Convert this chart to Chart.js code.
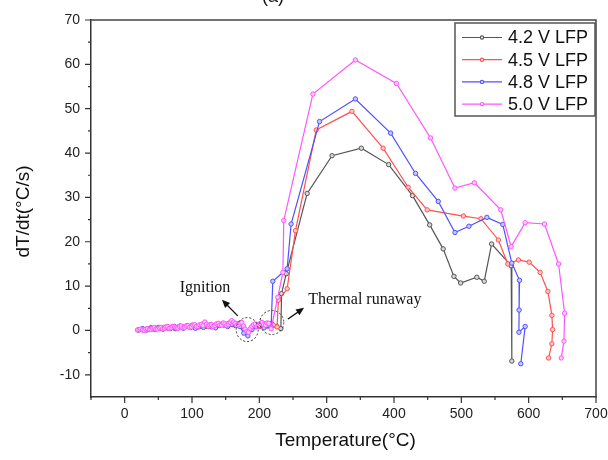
<!DOCTYPE html>
<html>
<head>
<meta charset="utf-8">
<script src="https://cdn.jsdelivr.net/npm/chart.js@4.4.1/dist/chart.umd.min.js"></script>
<style>
  body { margin: 0; background: #fff; }
  #chart { display: block; }
</style>
</head>
<body>
<canvas id="chart" width="608" height="460"></canvas>
<script>
// Axis ticks
const xTicks = [0, 100, 200, 300, 400, 500, 600, 700];
const xMinorTicks = [-50, 50, 150, 250, 350, 450, 550, 650];
const yTicks = [-10, 0, 10, 20, 30, 40, 50, 60, 70];
const yMinorTicks = [-5, 5, 15, 25, 35, 45, 55, 65];

const seriesLabels = ['4.2 V LFP', '4.5 V LFP', '4.8 V LFP', '5.0 V LFP'];
const seriesColors = ['#555555', '#ff5050', '#5050ff', '#ff55ff'];
const markerFills = ['#d8d8d8', '#ffc8c8', '#c8c8ff', '#ffc8ff'];

// 4.2 V LFP
const temp42 = [20, 26, 32, 38, 44, 50, 56, 62, 68, 74, 80, 86, 92, 98, 104, 110, 116, 122, 128, 134,
  140, 146, 152, 158, 164, 170, 176, 182, 188, 194, 200, 206, 212, 218, 226, 232, 233, 240, 271, 308,
  351.5, 392, 427.5, 453, 473, 489, 499, 523, 534, 545, 574, 575];
const rate42 = [0.1, 0.3, 0.2, 0.5, 0.3, 0.6, 0.4, 0.7, 0.5, 0.9, 0.6, 0.8, 1.0, 0.7, 1.1, 0.8, 1.2, 0.9, 1.3, 1.0,
  1.2, 1.5, 1.1, 1.4, 1.2, 1.6, 0.8, -0.5, 0.6, 1.1, 0.9, 1.4, 1.0, 1.6, 0.9, 0.4, 8.3, 12.8, 30.9, 39.4,
  41.1, 37.4, 30.4, 23.8, 18.4, 12.2, 10.7, 12.0, 11.1, 19.5, 14.6, -6.9];

// 4.5 V LFP
const temp45 = [22, 28, 34, 40, 46, 52, 58, 64, 70, 76, 82, 88, 94, 100, 106, 112, 118, 124, 130, 136,
  142, 148, 154, 160, 166, 172, 178, 184, 190, 196, 202, 208, 214, 221, 226.4, 228.3, 241.3, 253.7, 284.5, 337.6,
  383.8, 421, 449.3, 503, 529.2, 555, 569, 584.8, 600.7, 617, 628.5, 634.5, 635.5, 634.5, 629.6];
const rate45 = [0.2, 0.1, 0.4, 0.3, 0.6, 0.4, 0.7, 0.5, 0.8, 0.6, 1.0, 0.7, 0.9, 1.2, 0.8, 1.1, 1.4, 0.9, 1.2, 1.0,
  1.4, 1.2, 1.6, 1.3, 1.5, 1.1, 0.2, -0.3, 0.9, 1.3, 1.0, 1.5, 1.2, 1.2, 0.8, 6.8, 9.4, 22.5, 45.2, 49.4,
  41.1, 32.3, 27.2, 25.8, 25.2, 20.4, 15.0, 15.9, 15.4, 13.1, 8.8, 3.4, 0.2, -3.0, -6.2];

// 4.8 V LFP
const temp48 = [21, 27, 33, 39, 45, 51, 57, 63, 69, 75, 81, 87, 93, 99, 105, 111, 117, 123, 129, 135,
  141, 147, 153, 159, 165, 171, 177, 183, 189, 195, 201, 207, 213, 217.5, 220, 241.3, 247.2, 289.4, 342.6, 395,
  432, 465.7, 490.5, 511.3, 538, 561.5, 575, 586.4, 585.8, 585.5, 594.8, 588.3];
const rate48 = [0.2, 0.4, 0.1, 0.6, 0.4, 0.7, 0.3, 0.8, 0.6, 0.4, 0.9, 0.5, 1.1, 0.8, 0.5, 1.0, 0.7, 1.2, 0.8, 0.6,
  1.1, 1.3, 0.9, 1.4, 1.1, 0.9, -0.6, -1.2, 0.2, 0.8, 1.3, 0.6, 1.1, 0.8, 11.1, 13.9, 24.0, 47.1, 52.2, 44.5,
  35.4, 29.1, 22.1, 23.5, 25.5, 23.9, 15.2, 11.3, 4.6, -0.4, 0.9, -7.5];

// 5.0 V LFP
const temp50 = [19, 21.5, 24, 26.5, 29, 31.5, 34, 36.5, 39, 41.5, 44, 46.5, 49, 51.5, 54, 56.5, 59, 61.5, 64, 66.5,
  69, 71.5, 74, 76.5, 79, 81.5, 84, 86.5, 89, 91.5, 94, 96.5, 99, 101.5, 104, 106.5, 109, 111.5, 114, 116.5,
  119, 121.5, 124, 126.5, 129, 131.5, 134, 136.5, 139, 141.5, 144, 146.5, 149, 151.5, 154, 156.5, 159, 161.5, 164, 166.5,
  169, 171.5, 174, 176.5, 179, 181.5, 184, 186.5, 189, 191.5, 194, 196.5, 199, 201.5, 204, 206.5, 209, 211.5, 214,
  217.5, 227.4, 235, 236.3, 279.5, 342.6, 403.6, 454.3, 490.5, 519.3, 558.5, 574, 594.8, 623.5, 644.4, 653.4,
  652.4, 648.4];
const rate50 = [0.1, 0.2, 0.3, 0.1, 0.0, 0.3, 0.4, 0.2, 0.2, 0.5, 0.6, 0.3, 0.3, 0.6, 0.7, 0.4, 0.5, 0.8, 0.9, 0.5,
  0.6, 0.9, 0.8, 0.6, 0.5, 0.9, 1.0, 0.6, 0.7, 1.0, 1.1, 0.7, 0.8, 1.2, 1.3, 0.9, 0.9, 1.3, 1.4, 1.1,
  1.9, 1.4, 1.0, 1.2, 1.3, 0.9, 1.1, 1.5, 1.6, 1.2, 1.2, 1.7, 1.5, 1.1, 1.3, 1.8, 2.2, 1.9, 1.6, 1.2,
  1.3, 1.7, 1.8, 1.0, 0.3, -0.2, -0.4, 0.4, 0.9, 1.3, 1.5, 0.9, 1.1, 1.6, 1.8, 1.3, 1.2, 1.7, 1.6,
  0.4, 7.5, 13.1, 24.8, 53.3, 61.0, 55.7, 43.4, 32.1, 33.3, 27.2, 18.9, 24.3, 24.0, 15.0, 3.9,
  -2.4, -6.2];

const temps = [temp42, temp45, temp48, temp50];
const rates = [rate42, rate45, rate48, rate50];

const datasets = seriesLabels.map((label, i) => ({
    label: label,
    data: temps[i].map((t, k) => ({ x: t, y: rates[i][k] })),
    showLine: true,
    borderColor: seriesColors[i],
    borderWidth: 1.2,
    pointRadius: 2.2,
    pointBorderWidth: 1,
    pointBorderColor: seriesColors[i],
    pointBackgroundColor: markerFills[i],
    order: 4 - i   // 5.0 V drawn on top
}));

const axisFont = { family: 'Liberation Sans, Arial, sans-serif', size: 14 };

// Frame, minor ticks, legend, annotations and axis titles
const decorPlugin = {
    id: 'decor',
    afterDatasetsDraw(chart) {
        const ctx = chart.ctx;
        const area = chart.chartArea;
        const xs = chart.scales.x;
        const ys = chart.scales.y;
        const px = v => xs.getPixelForValue(v);
        const py = v => ys.getPixelForValue(v);

        ctx.save();

        // top + right frame
        ctx.strokeStyle = '#444';
        ctx.lineWidth = 1.5;
        ctx.beginPath();
        ctx.moveTo(area.left, area.top);
        ctx.lineTo(area.right, area.top);
        ctx.lineTo(area.right, area.bottom);
        ctx.stroke();

        // tick marks, outward
        ctx.strokeStyle = '#333';
        ctx.lineWidth = 1.2;
        ctx.beginPath();
        xTicks.forEach(v => { ctx.moveTo(px(v), area.bottom); ctx.lineTo(px(v), area.bottom + 6); });
        xMinorTicks.forEach(v => { ctx.moveTo(px(v), area.bottom); ctx.lineTo(px(v), area.bottom + 3); });
        yTicks.forEach(v => { ctx.moveTo(area.left, py(v)); ctx.lineTo(area.left - 6, py(v)); });
        yMinorTicks.forEach(v => { ctx.moveTo(area.left, py(v)); ctx.lineTo(area.left - 3, py(v)); });
        ctx.stroke();

        // legend box
        const lx = 455, ly = 23, lw = area.right - 456, lh = 93;
        ctx.fillStyle = '#fff';
        ctx.fillRect(lx, ly, lw, lh);
        ctx.strokeStyle = '#555';
        ctx.lineWidth = 1.5;
        ctx.strokeRect(lx, ly, lw, lh);
        ctx.font = '18px "Liberation Sans", Arial, sans-serif';
        ctx.textBaseline = 'middle';
        ctx.textAlign = 'left';
        seriesLabels.forEach((label, i) => {
            const rowY = 37.5 + i * 22.2;
            ctx.strokeStyle = seriesColors[i];
            ctx.lineWidth = 1.2;
            ctx.beginPath();
            ctx.moveTo(462, rowY);
            ctx.lineTo(502, rowY);
            ctx.stroke();
            ctx.fillStyle = '#fff';
            ctx.beginPath();
            ctx.arc(482, rowY, 1.6, 0, Math.PI * 2);
            ctx.fill();
            ctx.stroke();
            ctx.fillStyle = '#111';
            ctx.fillText(label, 508, rowY + 1);
        });

        // annotations
        ctx.strokeStyle = '#333';
        ctx.lineWidth = 1;
        ctx.setLineDash([2, 2]);
        ctx.beginPath();
        ctx.ellipse(px(182), py(0.2), 11, 12, 0, 0, Math.PI * 2);
        ctx.stroke();
        ctx.beginPath();
        ctx.ellipse(px(218.5), py(1.8), 12, 12, 0, 0, Math.PI * 2);
        ctx.stroke();
        ctx.setLineDash([]);

        function arrow(x1, y1, x2, y2) {
            const a = Math.atan2(y2 - y1, x2 - x1);
            ctx.strokeStyle = '#111';
            ctx.fillStyle = '#111';
            ctx.lineWidth = 1.3;
            ctx.beginPath();
            ctx.moveTo(x1, y1);
            ctx.lineTo(x2 - 4 * Math.cos(a), y2 - 4 * Math.sin(a));
            ctx.stroke();
            ctx.beginPath();
            ctx.moveTo(x2, y2);
            ctx.lineTo(x2 - 8 * Math.cos(a) + 3.5 * Math.sin(a), y2 - 8 * Math.sin(a) - 3.5 * Math.cos(a));
            ctx.lineTo(x2 - 8 * Math.cos(a) - 3.5 * Math.sin(a), y2 - 8 * Math.sin(a) + 3.5 * Math.cos(a));
            ctx.closePath();
            ctx.fill();
        }
        arrow(px(168), py(3.3), px(144.5), py(6.9));
        arrow(px(242.5), py(2.6), px(266.5), py(5.1));

        ctx.fillStyle = '#111';
        ctx.font = '16px "Liberation Serif", "Times New Roman", serif';
        ctx.textAlign = 'center';
        ctx.fillText('Ignition', px(119.3), py(9.6));
        ctx.textAlign = 'left';
        ctx.fillText('Thermal runaway', px(272.5), py(6.9));

        // axis titles
        ctx.font = '19px "Liberation Sans", Arial, sans-serif';
        ctx.textAlign = 'center';
        ctx.fillText('Temperature(°C)', (area.left + area.right) / 2 + 2, 441);
        ctx.save();
        ctx.translate(24, (area.top + area.bottom) / 2 + 3);
        ctx.rotate(-Math.PI / 2);
        ctx.fillText('dT/dt(°C/s)', 0, 0);
        ctx.restore();

        // panel title, cut off at the top edge
        ctx.font = '18px "Liberation Sans", Arial, sans-serif';
        ctx.fillText('(a)', 273, -3);

        ctx.restore();
    }
};

new Chart(document.getElementById('chart'), {
    type: 'scatter',
    data: { datasets: datasets },
    options: {
        responsive: false,
        animation: false,
        devicePixelRatio: 1,
        layout: { padding: { top: 20, right: 12, left: 0, bottom: 0 } },
        plugins: {
            legend: { display: false },
            tooltip: { enabled: false }
        },
        scales: {
            x: {
                type: 'linear',
                min: -50,
                max: 700,
                afterBuildTicks: scale => { scale.ticks = xTicks.map(v => ({ value: v })); },
                afterFit: scale => {
                    scale.height = 63;
                    scale.paddingLeft = 0;
                    scale.paddingRight = 0;
                },
                grid: { drawOnChartArea: false, drawTicks: false },
                border: { display: true, color: '#333', width: 1.5 },
                ticks: { padding: 9, color: '#222', font: axisFont, maxRotation: 0 }
            },
            y: {
                type: 'linear',
                min: -15,
                max: 70,
                afterBuildTicks: scale => { scale.ticks = yTicks.map(v => ({ value: v })); },
                afterFit: scale => {
                    scale.width = 91;
                    scale.paddingTop = 0;
                    scale.paddingBottom = 0;
                },
                grid: { drawOnChartArea: false, drawTicks: false },
                border: { display: true, color: '#333', width: 1.5 },
                ticks: { padding: 11, color: '#222', font: axisFont }
            }
        }
    },
    plugins: [decorPlugin]
});
</script>
</body>
</html>
